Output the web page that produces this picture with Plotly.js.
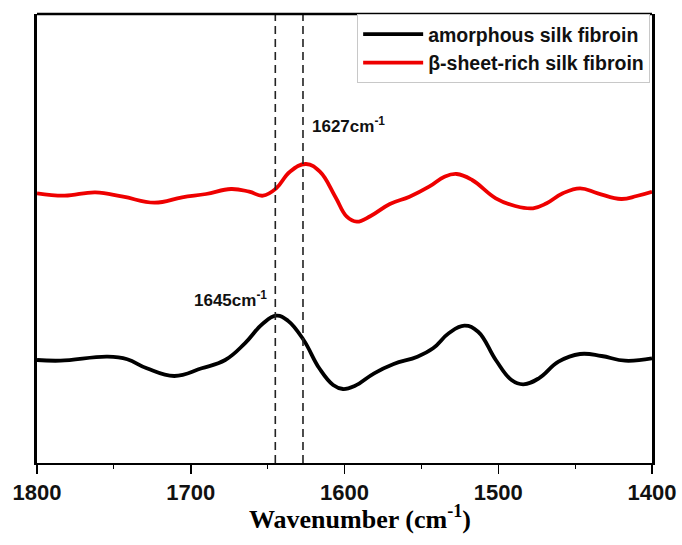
<!DOCTYPE html>
<html>
<head>
<meta charset="utf-8">
<script src="https://cdn.plot.ly/plotly-3.0.1.min.js"></script>
<style>html,body{margin:0;padding:0;background:#fff;}#chart{width:682px;height:545px;}</style>
</head>
<body>
<div id="chart"></div>
<script>
// Wavenumber (cm-1) and relative intensity (arbitrary units, offset traces)
const amorphousX = [1800, 1784.7, 1754, 1741.3, 1728.6, 1710.7, 1692.9, 1677.6, 1664.8, 1653.4, 1644.4, 1636.8, 1626.6, 1616.4, 1607.4, 1601, 1593.4, 1580.7, 1568, 1552.6, 1542.4, 1532.2, 1522, 1513.1, 1501.6, 1491.4, 1483.8, 1473.6, 1460.8, 1446.8, 1432.8, 1417.5, 1400];
const amorphousY = [1.03, 1.023, 1.063, 1.037, 0.947, 0.87, 0.947, 1.03, 1.197, 1.39, 1.473, 1.423, 1.23, 0.947, 0.78, 0.74, 0.77, 0.897, 0.99, 1.063, 1.147, 1.297, 1.373, 1.313, 1.03, 0.83, 0.787, 0.847, 1.013, 1.09, 1.07, 1.023, 1.047];

const betaX = [1800, 1782, 1762, 1744, 1723.5, 1705.6, 1690, 1673.8, 1662, 1653, 1644.4, 1635.5, 1625, 1616, 1606, 1598.5, 1592, 1583, 1570.5, 1557.7, 1545, 1535, 1527, 1517, 1501.6, 1489, 1477.4, 1468.5, 1458, 1446.8, 1435.3, 1420, 1410, 1400];
const betaY = [2.697, 2.673, 2.707, 2.663, 2.603, 2.657, 2.69, 2.74, 2.713, 2.673, 2.747, 2.913, 2.99, 2.913, 2.663, 2.463, 2.413, 2.47, 2.59, 2.663, 2.763, 2.863, 2.89, 2.83, 2.647, 2.57, 2.547, 2.597, 2.697, 2.747, 2.697, 2.64, 2.67, 2.713];

const seriesNames = ['amorphous silk fibroin', 'β-sheet-rich silk fibroin'];
const markerLines = [1645, 1627];
const markerLabels = ['1645cm<sup>-1</sup>', '1627cm<sup>-1</sup>'];
const labelY = [1.64, 3.38];
const tickVals = [1800, 1700, 1600, 1500, 1400];
const tickText = ['1800', '1700', '1600', '1500', '1400'];

const traces = [
  {x: amorphousX, y: amorphousY, name: seriesNames[0], type: 'scatter', mode: 'lines',
   line: {color: '#000000', width: 3.8, shape: 'spline', smoothing: 1.2}},
  {x: betaX, y: betaY, name: seriesNames[1], type: 'scatter', mode: 'lines',
   line: {color: '#ee0000', width: 3.8, shape: 'spline', smoothing: 1.2}}
];

const shapes = markerLines.map(v => ({
  type: 'line', xref: 'x', yref: 'paper', x0: v, x1: v, y0: 0, y1: 1,
  line: {color: '#222222', width: 1.6, dash: '8px,5px'}
}));
shapes.push({type: 'line', xref: 'paper', yref: 'paper', x0: 0, x1: 1, y0: 1, y1: 1,
  line: {color: '#000000', width: 2.5}});

const annotations = [
  {x: markerLines[0], y: labelY[0], xref: 'x', yref: 'y', text: markerLabels[0], showarrow: false,
   xanchor: 'right', yanchor: 'middle', xshift: -6,
   font: {family: 'Liberation Sans, Arial, sans-serif', size: 17, color: '#111', weight: 'bold'}},
  {x: markerLines[1], y: labelY[1], xref: 'x', yref: 'y', text: markerLabels[1], showarrow: false,
   xanchor: 'left', yanchor: 'middle', xshift: 7,
   font: {family: 'Liberation Sans, Arial, sans-serif', size: 17, color: '#111', weight: 'bold'}},
  {x: 0.525, y: -0.122, xref: 'paper', yref: 'paper', text: 'Wavenumber (cm<sup>-1</sup>)', showarrow: false,
   xanchor: 'center', yanchor: 'middle',
   font: {family: 'Liberation Serif, Times New Roman, serif', size: 26, color: '#000', weight: 'bold'}}
];

const layout = {
  width: 682, height: 545,
  margin: {l: 37, r: 30, t: 14, b: 82, pad: 0},
  paper_bgcolor: '#ffffff', plot_bgcolor: '#ffffff',
  showlegend: true,
  legend: {x: 0.997, xanchor: 'right', y: 1, yanchor: 'top', bgcolor: '#ffffff',
    bordercolor: '#c8c8c8', borderwidth: 1, itemwidth: 60, tracegroupgap: 0,
    font: {family: 'Liberation Sans, Arial, sans-serif', size: 19.5, color: '#111', weight: 'bold'}},
  xaxis: {range: [1800, 1400], autorange: false, tickvals: tickVals, ticktext: tickText,
    ticks: 'outside', ticklen: 9, tickwidth: 1.5, tickcolor: '#000',
    minor: {ticks: 'outside', ticklen: 4, tickwidth: 1.2, tickcolor: '#000', dtick: 50, showgrid: false},
    showline: true, linecolor: '#000', linewidth: 1.5, mirror: false,
    showgrid: false, zeroline: false,
    tickfont: {family: 'Liberation Sans, Arial, sans-serif', size: 22, color: '#111', weight: 'bold'}},
  yaxis: {range: [0, 4.49], autorange: false, showticklabels: false, ticks: '',
    showline: true, linecolor: '#000', linewidth: 3, mirror: true,
    showgrid: false, zeroline: false},
  shapes: shapes,
  annotations: annotations
};

Plotly.newPlot('chart', traces, layout, {staticPlot: true, displayModeBar: false});
</script>
</body>
</html>
